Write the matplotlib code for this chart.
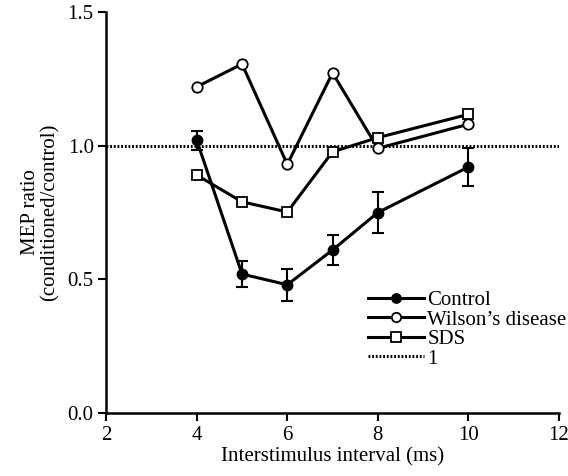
import matplotlib
matplotlib.use("Agg")
import matplotlib.pyplot as plt

# inter-stimulus intervals (ms)
isi = [4, 5, 6, 7, 8, 10]

control = [1.02, 0.52, 0.48, 0.61, 0.75, 0.92]
control_err = [0.035, 0.047, 0.06, 0.055, 0.077, 0.072]
wilson = [1.22, 1.305, 0.93, 1.272, 0.99, 1.08]
sds = [0.89, 0.79, 0.752, 0.977, 1.03, 1.117]

plt.rcParams['font.family'] = ['Liberation Serif', 'DejaVu Serif']
plt.rcParams['font.size'] = 15

fig = plt.figure(figsize=(5.68, 4.76), dpi=100)
ax = fig.add_axes([0.187, 0.132, 0.797, 0.843])

lw = 2.2
eb = ax.errorbar(isi, control, yerr=control_err, color='black', lw=lw, marker='o',
                 ms=7.5, mfc='black', mec='black', capsize=4, elinewidth=1.5,
                 capthick=1.5, zorder=3)
h_wil, = ax.plot(isi, wilson, color='black', lw=lw, marker='o', ms=7.5, mfc='white',
                 mec='black', mew=1.3, zorder=3)
h_sds, = ax.plot(isi, sds, color='black', lw=lw, marker='s', ms=7.5, mfc='white',
                 mec='black', mew=1.3, zorder=3)
h_one = ax.axhline(1.0, color='black', lw=2.2, ls=(0, (0.6, 0.6)), zorder=2)

ax.set_xlim(2, 12)
ax.set_ylim(0, 1.5)
ax.set_xticks([2, 4, 6, 8, 10, 12])
ax.set_yticks([0.0, 0.5, 1.0, 1.5])
ax.set_yticklabels(['0.0', '0.5', '1.0', '1.5'])
for s in ['top', 'right']:
    ax.spines[s].set_visible(False)
for s in ['left', 'bottom']:
    ax.spines[s].set_linewidth(1.8)
ax.tick_params(width=1.5, length=6, direction='out', pad=3)

ax.set_xlabel('Interstimulus interval (ms)', labelpad=2)
ax.set_ylabel('MEP ratio\n(conditioned/control)', labelpad=6, linespacing=1.0)

ax.legend([eb.lines[0], h_wil, h_sds, h_one],
          ['Control', 'Wilson\u2019s disease', 'SDS', '1'],
          loc='lower right', bbox_to_anchor=(1.035, 0.09), frameon=False,
          handlelength=2.7, handletextpad=0.15, labelspacing=0.0,
          borderaxespad=0, markerscale=0.9)

fig.savefig('out.png', dpi=100)
